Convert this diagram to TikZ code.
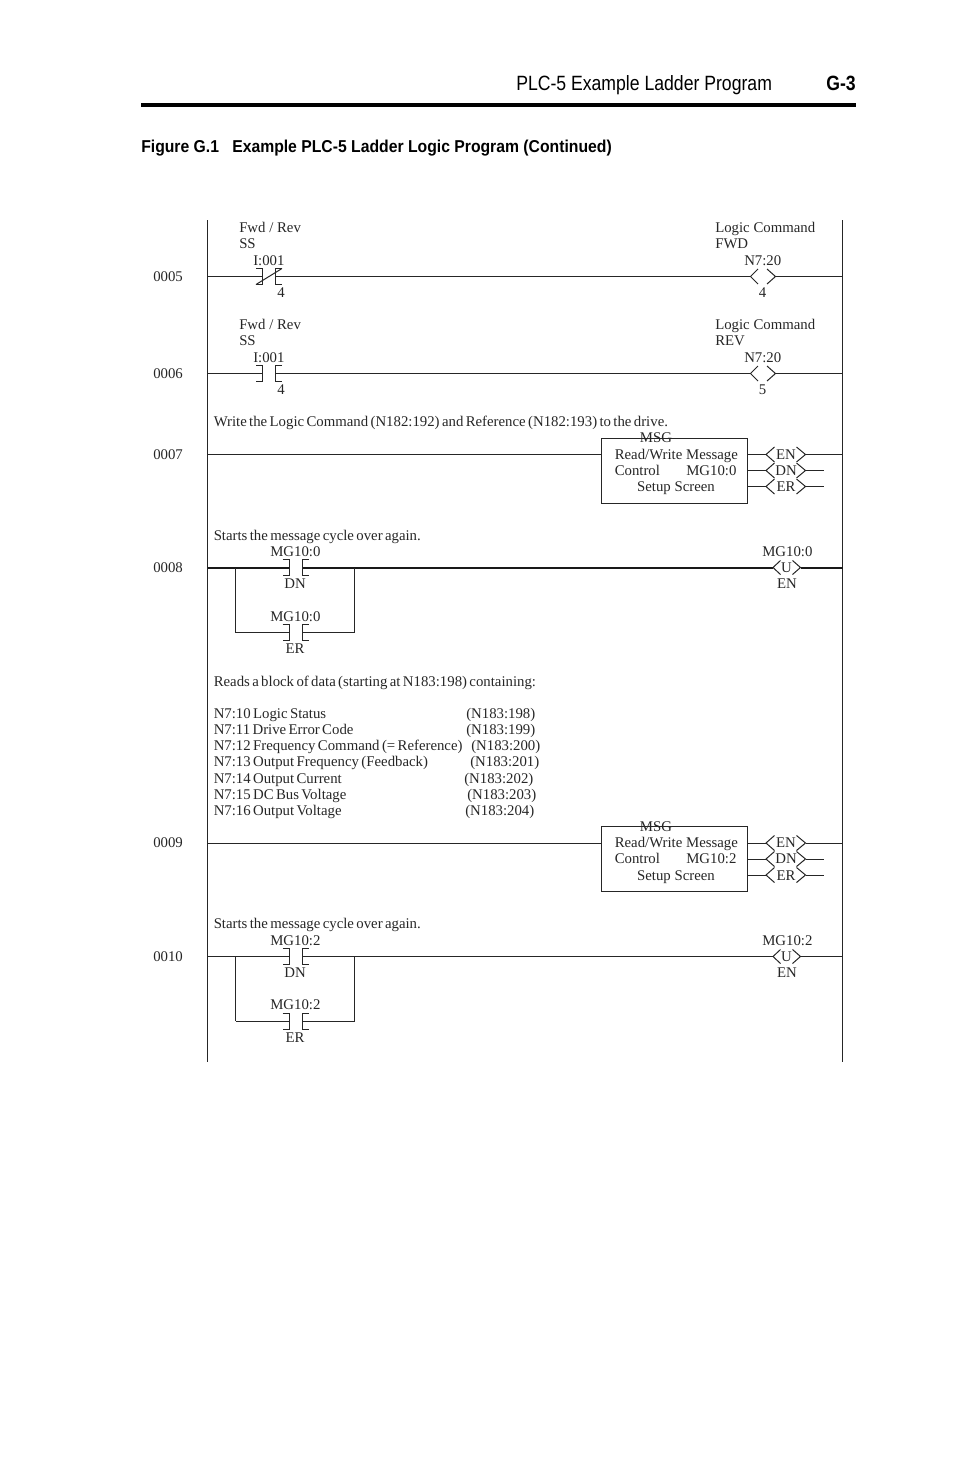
\documentclass[tikz,border=0pt]{standalone}
\usepackage{fontspec}
\setmainfont{Liberation Serif}
\newfontfamily\headfont[FakeStretch=0.853]{Liberation Sans}
\newfontfamily\figfont[FakeStretch=0.915]{Liberation Sans}
\tikzset{
	wire/.style={line width=0.75pt,black!85},
	heavywire/.style={line width=1.5pt,black!90},
	lbl/.style={inner sep=0pt,anchor=base west,text=black!85,font=\fontsize{11.1}{13}\selectfont},
	lblc/.style={lbl,anchor=base},
	note/.style={lbl,font=\fontsize{11.1}{13}\selectfont\spaceskip 0.16em\relax},
	contact/.pic={
		\draw[wire] (-6.5,-8) -- (0,-8) -- (0,8) -- (-6.5,8);
		\draw[wire] (19.5,-8) -- (13,-8) -- (13,8) -- (19.5,8);
	},
	coilend/.pic={
		\draw[wire] (7.5,-7.5) -- (0,0) -- (7.5,7.5);
		\draw[wire] (16.5,-7.5) -- (25,0) -- (16.5,7.5);
	},
	ubend/.pic={
		\draw[wire] (7.5,-7) -- (0,0) -- (7.5,7);
		\draw[wire] (19.5,-7) -- (27.5,0) -- (19.5,7);
	},
	flagend/.pic={
		\draw[wire] (8.5,-7.5) -- (0,0) -- (8.5,7.5);
		\draw[wire] (30.5,-7.5) -- (39.5,0) -- (30.5,7.5);
	}
}
\begin{document}
\begin{tikzpicture}[x=0.75pt,y=-0.75pt]
	\useasboundingbox (0,0) rectangle (954,1475);

	% page header
	\node [inner sep=0pt,anchor=base west,font=\headfont\fontsize{15.5}{18}\selectfont](HEAD) at (516,90) {PLC-5 Example Ladder Program};
	\node [inner sep=0pt,anchor=base east,font=\headfont\bfseries\fontsize{15.5}{18}\selectfont](PAGE) at (856,90) {G-3};
	\coordinate (RL) at (141,105);
	\coordinate (RR) at (856,105);
	\draw [line width=2.3pt] (RL) to (RR);
	\node [inner sep=0pt,anchor=base west,font=\figfont\bfseries\fontsize{12.9}{15}\selectfont](FIG) at (141,152.5) {Figure G.1};
	\node [inner sep=0pt,anchor=base west,font=\figfont\bfseries\fontsize{12.9}{15}\selectfont](TITLE) at (232,152.5) {Example PLC-5 Ladder Logic Program (Continued)};

	% rails
	\coordinate (LT) at (207.5,220);
	\coordinate (LB) at (207.5,1062);
	\coordinate (RT) at (842.5,220);
	\coordinate (RB) at (842.5,1062);
	\draw [wire] (LT) to (LB);
	\draw [wire] (RT) to (RB);

	% rung 0005
	\node [lbl](N05) at (153,281) {0005};
	\node [lbl](T05a) at (239,232) {Fwd / Rev};
	\node [lbl](T05b) at (239,248) {SS};
	\node [lbl](T05c) at (253,265) {I:001};
	\node [lblc](T05d) at (281,297) {4};
	\node [lbl](T05e) at (715,232) {Logic Command};
	\node [lbl](T05f) at (715,248) {FWD};
	\node [lbl](T05g) at (744,265) {N7:20};
	\node [lblc](T05h) at (762.5,297) {4};
	\coordinate (L05) at (207.5,276.5);
	\coordinate (A05) at (262.5,276.5);
	\coordinate (B05) at (275.5,276.5);
	\coordinate (C05) at (750.5,276.5);
	\coordinate (D05) at (775.5,276.5);
	\coordinate (R05) at (842.5,276.5);
	\coordinate (S05a) at (256,284.5);
	\coordinate (S05b) at (282,268.5);
	\draw [wire] (L05) to (A05);
	\draw [wire] (B05) to (C05);
	\draw [wire] (D05) to (R05);
	\draw [wire] (S05a) to (S05b);
	\pic at (A05) {contact};
	\pic at (C05) {coilend};

	% rung 0006
	\node [lbl](N06) at (153,378) {0006};
	\node [lbl](T06a) at (239,329) {Fwd / Rev};
	\node [lbl](T06b) at (239,345.5) {SS};
	\node [lbl](T06c) at (253,362) {I:001};
	\node [lblc](T06d) at (281,394) {4};
	\node [lbl](T06e) at (715,329) {Logic Command};
	\node [lbl](T06f) at (715,345.5) {REV};
	\node [lbl](T06g) at (744,362) {N7:20};
	\node [lblc](T06h) at (762.5,394) {5};
	\coordinate (L06) at (207.5,373.5);
	\coordinate (A06) at (262.5,373.5);
	\coordinate (B06) at (275.5,373.5);
	\coordinate (C06) at (750.5,373.5);
	\coordinate (D06) at (775.5,373.5);
	\coordinate (R06) at (842.5,373.5);
	\draw [wire] (L06) to (A06);
	\draw [wire] (B06) to (C06);
	\draw [wire] (D06) to (R06);
	\pic at (A06) {contact};
	\pic at (C06) {coilend};

	% rung 0007
	\node [lbl](N07) at (153,459) {0007};
	\node [note](T07a) at (213.5,426) {Write the Logic Command (N182:192) and Reference (N182:193) to the drive.};
	\coordinate (L07) at (207.5,454.5);
	\coordinate (M07) at (601.5,454.5);
	\coordinate (P07) at (747.5,454.5);
	\coordinate (E07) at (766,454.5);
	\coordinate (F07) at (805.5,454.5);
	\coordinate (R07) at (842.5,454.5);
	\coordinate (P07b) at (747.5,470.5);
	\coordinate (E07b) at (766,470.5);
	\coordinate (F07b) at (805.5,470.5);
	\coordinate (R07b) at (824,470.5);
	\coordinate (P07c) at (747.5,486.5);
	\coordinate (E07c) at (766,486.5);
	\coordinate (F07c) at (805.5,486.5);
	\coordinate (R07c) at (824,486.5);
	\coordinate (BOX07a) at (601.5,438);
	\coordinate (BOX07b) at (747.5,503);
	\draw [wire] (BOX07a) rectangle (BOX07b);
	\draw [wire] (L07) to (M07);
	\draw [wire] (P07) to (E07);
	\draw [wire] (F07) to (R07);
	\draw [wire] (P07b) to (E07b);
	\draw [wire] (F07b) to (R07b);
	\draw [wire] (P07c) to (E07c);
	\draw [wire] (F07c) to (R07c);
	\pic at (E07) {flagend};
	\pic at (E07b) {flagend};
	\pic at (E07c) {flagend};
	\node [lblc](T07b) at (656,442.5) {MSG};
	\node [lbl](T07c) at (614.5,459) {Read/Write Message};
	\node [lbl](T07d) at (614.5,475) {Control};
	\node [lbl](T07e) at (686,475) {MG10:0};
	\node [lblc](T07f) at (676,491) {Setup Screen};
	\node [lblc](T07g) at (786,459) {EN};
	\node [lblc](T07h) at (786,475) {DN};
	\node [lblc](T07i) at (786,491) {ER};

	% rung 0008
	\node [lbl](N08) at (153,572) {0008};
	\node [note](T08a) at (213.5,540) {Starts the message cycle over again.};
	\node [lbl](T08b) at (270,556) {MG10:0};
	\node [lblc](T08c) at (295,588) {DN};
	\node [lbl](T08d) at (270,621) {MG10:0};
	\node [lblc](T08e) at (295,653) {ER};
	\node [lbl](T08f) at (762,556) {MG10:0};
	\node [lblc](T08g) at (786.5,572) {U};
	\node [lblc](T08h) at (787,588) {EN};
	\coordinate (L08) at (207.5,567.5);
	\coordinate (A08) at (289,567.5);
	\coordinate (B08) at (302,567.5);
	\coordinate (C08) at (773,567.5);
	\coordinate (D08) at (800.5,567.5);
	\coordinate (R08) at (842.5,567.5);
	\coordinate (G08) at (235.5,567.5);
	\coordinate (H08) at (354.5,567.5);
	\coordinate (G08b) at (235.5,632.5);
	\coordinate (H08b) at (354.5,632.5);
	\coordinate (A08b) at (289,632.5);
	\coordinate (B08b) at (302,632.5);
	\draw [heavywire] (L08) to (A08);
	\draw [heavywire] (B08) to (C08);
	\draw [heavywire] (D08) to (R08);
	\draw [wire] (G08) to (G08b);
	\draw [wire] (G08b) to (A08b);
	\draw [wire] (B08b) to (H08b);
	\draw [wire] (H08b) to (H08);
	\pic at (A08) {contact};
	\pic at (A08b) {contact};
	\pic at (C08) {ubend};

	% rung 0009
	\node [note](T09a) at (213.5,686) {Reads a block of data (starting at N183:198) containing:};
	\node [note](T09b) at (213.5,718) {N7:10 Logic Status};
	\node [note](T09c) at (213.5,734) {N7:11 Drive Error Code};
	\node [note](T09d) at (213.5,750) {N7:12 Frequency Command (= Reference)};
	\node [note](T09e) at (213.5,766) {N7:13 Output Frequency (Feedback)};
	\node [note](T09f) at (213.5,783) {N7:14 Output Current};
	\node [note](T09g) at (213.5,799) {N7:15 DC Bus Voltage};
	\node [note](T09h) at (213.5,815) {N7:16 Output Voltage};
	\node [lbl](V09b) at (466,718) {(N183:198)};
	\node [lbl](V09c) at (466,734) {(N183:199)};
	\node [lbl](V09d) at (471,750) {(N183:200)};
	\node [lbl](V09e) at (470,766) {(N183:201)};
	\node [lbl](V09f) at (464,783) {(N183:202)};
	\node [lbl](V09g) at (467,799) {(N183:203)};
	\node [lbl](V09h) at (465,815) {(N183:204)};
	\node [lbl](N09) at (153,847) {0009};
	\coordinate (L09) at (207.5,843);
	\coordinate (M09) at (601.5,843);
	\coordinate (P09) at (747.5,843);
	\coordinate (E09) at (766,843);
	\coordinate (F09) at (805.5,843);
	\coordinate (R09) at (842.5,843);
	\coordinate (P09b) at (747.5,859);
	\coordinate (E09b) at (766,859);
	\coordinate (F09b) at (805.5,859);
	\coordinate (R09b) at (824,859);
	\coordinate (P09c) at (747.5,875);
	\coordinate (E09c) at (766,875);
	\coordinate (F09c) at (805.5,875);
	\coordinate (R09c) at (824,875);
	\coordinate (BOX09a) at (601.5,826.5);
	\coordinate (BOX09b) at (747.5,891.5);
	\draw [wire] (BOX09a) rectangle (BOX09b);
	\draw [wire] (L09) to (M09);
	\draw [wire] (P09) to (E09);
	\draw [wire] (F09) to (R09);
	\draw [wire] (P09b) to (E09b);
	\draw [wire] (F09b) to (R09b);
	\draw [wire] (P09c) to (E09c);
	\draw [wire] (F09c) to (R09c);
	\pic at (E09) {flagend};
	\pic at (E09b) {flagend};
	\pic at (E09c) {flagend};
	\node [lblc](T09i) at (656,831) {MSG};
	\node [lbl](T09j) at (614.5,847.5) {Read/Write Message};
	\node [lbl](T09k) at (614.5,863.5) {Control};
	\node [lbl](T09l) at (686,863.5) {MG10:2};
	\node [lblc](T09m) at (676,880) {Setup Screen};
	\node [lblc](T09n) at (786,847.5) {EN};
	\node [lblc](T09o) at (786,863.5) {DN};
	\node [lblc](T09p) at (786,880) {ER};

	% rung 0010
	\node [lbl](N10) at (153,961) {0010};
	\node [note](T10a) at (213.5,928.5) {Starts the message cycle over again.};
	\node [lbl](T10b) at (270,945) {MG10:2};
	\node [lblc](T10c) at (295,977) {DN};
	\node [lbl](T10d) at (270,1009) {MG10:2};
	\node [lblc](T10e) at (295,1042) {ER};
	\node [lbl](T10f) at (762,945) {MG10:2};
	\node [lblc](T10g) at (786.5,961) {U};
	\node [lblc](T10h) at (787,977) {EN};
	\coordinate (L10) at (207.5,956.5);
	\coordinate (A10) at (289,956.5);
	\coordinate (B10) at (302,956.5);
	\coordinate (C10) at (773,956.5);
	\coordinate (D10) at (800.5,956.5);
	\coordinate (R10) at (842.5,956.5);
	\coordinate (G10) at (235.5,956.5);
	\coordinate (H10) at (354.5,956.5);
	\coordinate (G10b) at (235.5,1021);
	\coordinate (H10b) at (354.5,1021);
	\coordinate (A10b) at (289,1021);
	\coordinate (B10b) at (302,1021);
	\draw [wire] (L10) to (A10);
	\draw [wire] (B10) to (C10);
	\draw [wire] (D10) to (R10);
	\draw [wire] (G10) to (G10b);
	\draw [wire] (G10b) to (A10b);
	\draw [wire] (B10b) to (H10b);
	\draw [wire] (H10b) to (H10);
	\pic at (A10) {contact};
	\pic at (A10b) {contact};
	\pic at (C10) {ubend};
\end{tikzpicture}
\end{document}
